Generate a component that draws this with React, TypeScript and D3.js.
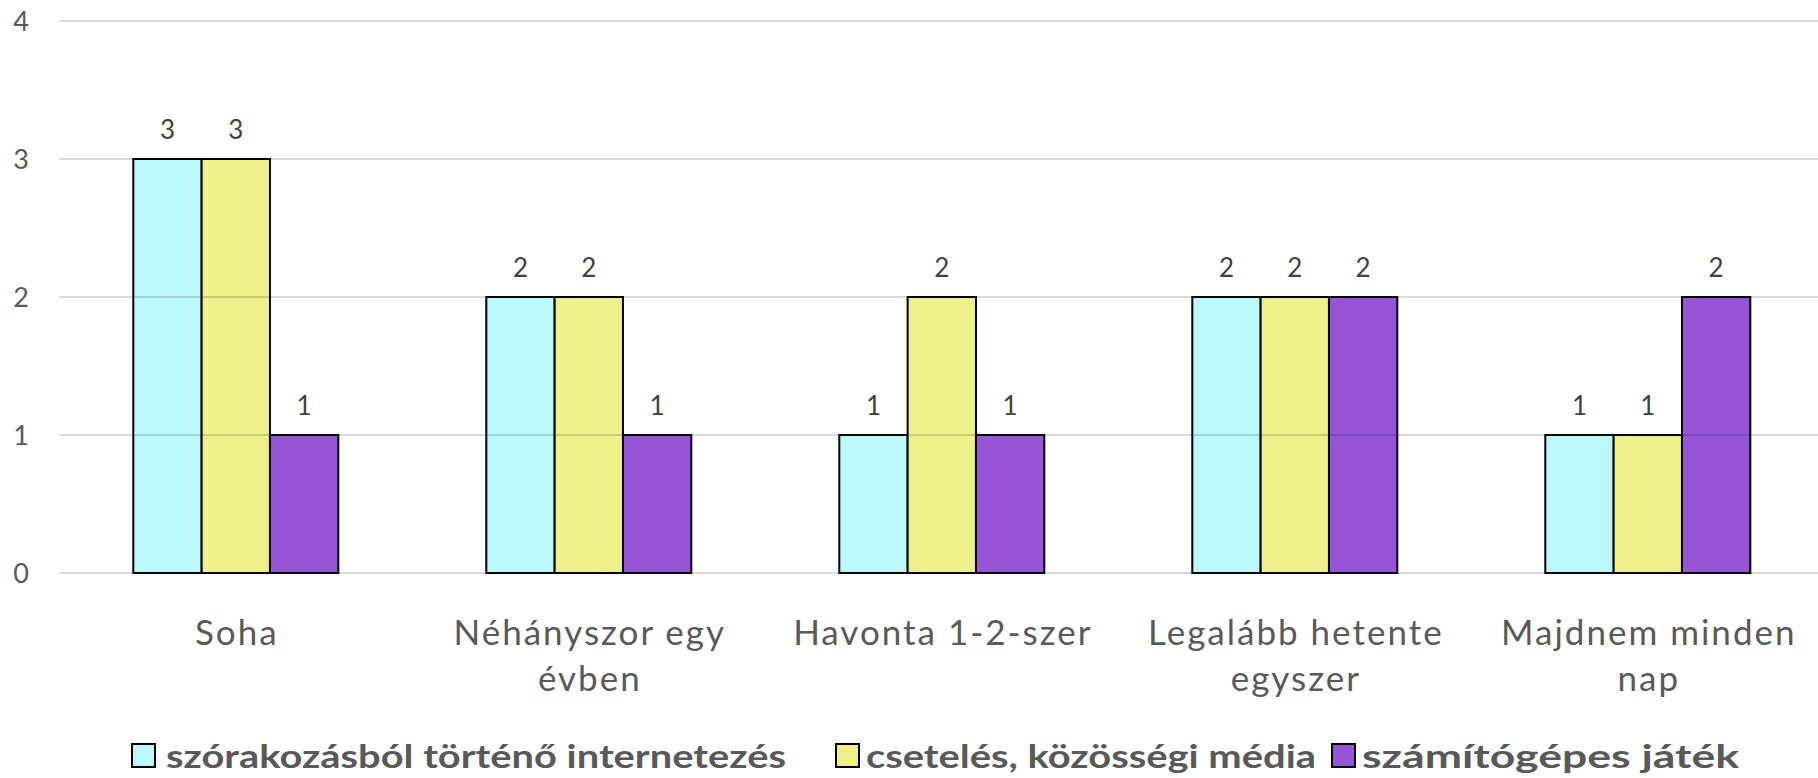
import React from "react";
import * as d3 from "d3";

const categories: string[][] = [
  ["Soha"],
  ["Néhányszor egy", "évben"],
  ["Havonta 1-2-szer"],
  ["Legalább hetente", "egyszer"],
  ["Majdnem minden", "nap"],
];
const seriesNames = [
  "szórakozásból történő internetezés",
  "csetelés, közösségi média",
  "számítógépes játék",
];
const seriesColors = ["#BBF8FC", "#EEF08A", "#9655D6"];
const internet = [3, 2, 1, 2, 1];
const chat = [3, 2, 2, 2, 1];
const game = [1, 1, 1, 2, 2];
const yTicks = [0, 1, 2, 3, 4];

const W = 1818;
const H = 778;
const FONT = "Lato, 'Open Sans', sans-serif";

export default function App() {
  const series = [internet, chat, game];
  const x = d3
    .scaleBand<number>()
    .domain(d3.range(categories.length))
    .range([59.3, 1824.3])
    .paddingInner(0)
    .paddingOuter(0);
  const groupW = 205;
  const xs = d3
    .scaleBand<number>()
    .domain(d3.range(series.length))
    .range([0, groupW]);
  const y = d3.scaleLinear().domain([0, 4]).range([573, 21]);

  const legendItems = [
    { sq: 132, tx: 166, len: 620 },
    { sq: 836, tx: 866, len: 450 },
    { sq: 1332, tx: 1362, len: 377 },
  ];

  return (
    <svg
      width={W}
      height={H}
      style={{ position: "absolute", left: 0, top: 0, background: "#fff" }}
      fontFamily={FONT}
    >
      {/* bars */}
      {categories.map((_, ci) => {
        const gx = (x(ci) as number) + x.bandwidth() / 2 - groupW / 2;
        return series.map((s, si) => (
          <rect
            key={`b${ci}-${si}`}
            x={gx + (xs(si) as number)}
            y={y(s[ci])}
            width={xs.bandwidth()}
            height={y(0) - y(s[ci])}
            fill={seriesColors[si]}
            stroke="#000"
            strokeWidth={2}
          />
        ));
      })}
      {/* gridlines on top */}
      {yTicks.map((t) => (
        <line
          key={`g${t}`}
          x1={59.3}
          x2={W}
          y1={y(t)}
          y2={y(t)}
          stroke="rgba(0,0,0,0.15)"
          strokeWidth={2}
        />
      ))}
      {/* y tick labels */}
      {yTicks.map((t) => (
        <text
          key={`t${t}`}
          x={29}
          y={y(t)}
          dy="0.36em"
          textAnchor="end"
          fontSize={27}
          fill="#595959"
        >
          {t}
        </text>
      ))}
      {/* data labels */}
      {categories.map((_, ci) => {
        const gx = (x(ci) as number) + x.bandwidth() / 2 - groupW / 2;
        return series.map((s, si) => (
          <text
            key={`l${ci}-${si}`}
            x={gx + (xs(si) as number) + xs.bandwidth() / 2}
            y={y(s[ci]) - 20}
            textAnchor="middle"
            fontSize={26}
            fill="#404040"
          >
            {s[ci]}
          </text>
        ));
      })}
      {/* category labels */}
      {categories.map((lines, ci) => (
        <text
          key={`c${ci}`}
          x={(x(ci) as number) + x.bandwidth() / 2 + 1}
          y={645}
          textAnchor="middle"
          fontSize={35}
          letterSpacing={2}
          fill="#595959"
        >
          {lines.map((ln, li) => (
            <tspan key={li} x={(x(ci) as number) + x.bandwidth() / 2 + 1} dy={li === 0 ? 0 : 46}>
              {ln}
            </tspan>
          ))}
        </text>
      ))}
      {/* legend */}
      {seriesNames.map((name, si) => (
        <g key={`lg${si}`}>
          <rect
            x={legendItems[si].sq}
            y={744}
            width={23}
            height={23}
            fill={seriesColors[si]}
            stroke="#000"
            strokeWidth={2}
          />
          <text
            x={legendItems[si].tx}
            y={768}
            fontSize={32}
            fontWeight="bold"
            fill="#595959"
            textLength={legendItems[si].len}
            lengthAdjust="spacingAndGlyphs"
          >
            {name}
          </text>
        </g>
      ))}
    </svg>
  );
}
